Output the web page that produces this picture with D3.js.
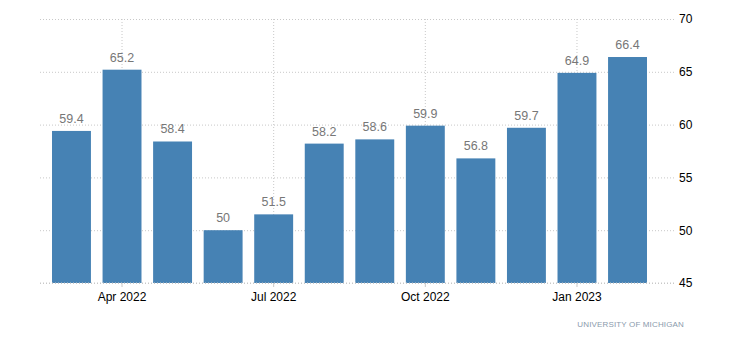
<!DOCTYPE html>
<html>
<head>
<meta charset="utf-8">
<script src="https://cdn.jsdelivr.net/npm/d3@7"></script>
<style>
  body { margin: 0; background: #fff; }
  svg { display: block; font-family: "Liberation Sans", Arial, sans-serif; }
</style>
</head>
<body>
<div id="chart"></div>
<script>
// consumer sentiment, monthly
const months = ['Mar 2022', 'Apr 2022', 'May 2022', 'Jun 2022', 'Jul 2022', 'Aug 2022',
  'Sep 2022', 'Oct 2022', 'Nov 2022', 'Dec 2022', 'Jan 2023', 'Feb 2023'];
const values = [59.4, 65.2, 58.4, 50, 51.5, 58.2, 58.6, 59.9, 56.8, 59.7, 64.9, 66.4];
const xTicks = ['Apr 2022', 'Jul 2022', 'Oct 2022', 'Jan 2023'];
const yTicks = [45, 50, 55, 60, 65, 70];
const source = 'UNIVERSITY OF MICHIGAN';

const width = 730;
const height = 351;
const gridLeft = 40;
const gridRight = 675;

const svg = d3.select('#chart').append('svg').attr('width', width).attr('height', height);

const x = d3.scaleBand().domain(months).range([46.2, 652.8]).paddingInner(0.23).paddingOuter(0.115);
const y = d3.scaleLinear().domain([45, 70]).range([283, 19]);

// horizontal grid + right axis labels
const yAxis = d3.axisRight(y).tickValues(yTicks).tickSize(gridRight - gridLeft).tickPadding(4);
svg.append('g')
  .attr('transform', `translate(${gridLeft},0)`)
  .call(yAxis)
  .call(g => g.select('.domain').remove())
  .call(g => g.selectAll('.tick line').attr('stroke', '#c8c8c8').attr('stroke-dasharray', '1,2'))
  .call(g => g.selectAll('.tick text').attr('fill', '#000').attr('font-size', 12).attr('x', gridRight - gridLeft + 4));

// vertical grid at quarter months
svg.append('g').selectAll('line').data(xTicks).join('line')
  .attr('x1', d => x(d) + x.bandwidth() / 2).attr('x2', d => x(d) + x.bandwidth() / 2)
  .attr('y1', y(70)).attr('y2', y(45))
  .attr('stroke', '#c8c8c8').attr('stroke-dasharray', '1,2');

// bars
svg.append('g').attr('fill', '#4682b4').selectAll('rect')
  .data(values).join('rect')
  .attr('x', (d, i) => x(months[i]))
  .attr('y', d => y(d))
  .attr('width', x.bandwidth())
  .attr('height', d => y(45) - y(d));

// value labels
svg.append('g').selectAll('text').data(values).join('text')
  .attr('x', (d, i) => x(months[i]) + x.bandwidth() / 2)
  .attr('y', d => y(d) - 8)
  .attr('text-anchor', 'middle')
  .attr('font-size', 12.5)
  .attr('fill', '#777')
  .text(d => d);

// bottom axis
const xAxis = d3.axisBottom(x).tickValues(xTicks).tickSize(4).tickPadding(5);
svg.append('g')
  .attr('transform', `translate(0,${y(45)})`)
  .call(xAxis)
  .call(g => g.select('.domain').remove())
  .call(g => g.selectAll('.tick line').attr('stroke', '#c8c8c8'))
  .call(g => g.selectAll('.tick text').attr('fill', '#000').attr('font-size', 12));

svg.append('line')
  .attr('x1', gridLeft).attr('x2', gridRight).attr('y1', y(45)).attr('y2', y(45))
  .attr('stroke', '#c8c8c8').attr('stroke-dasharray', '1,2');

svg.append('text')
  .attr('x', 684).attr('y', 327)
  .attr('text-anchor', 'end')
  .attr('font-size', 8)
  .attr('letter-spacing', 0.15)
  .attr('fill', '#8a9aac')
  .text(source);
</script>
</body>
</html>
